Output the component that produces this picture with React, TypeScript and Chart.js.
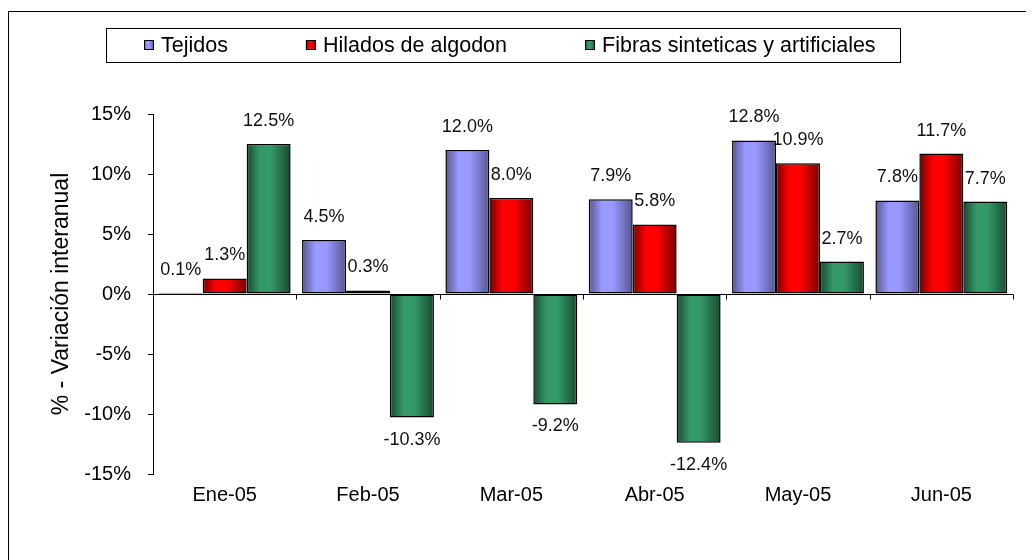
import React, { useEffect, useRef } from 'react';
import { Chart, registerables } from 'chart.js';

Chart.register(...registerables);

const categories = ['Ene-05', 'Feb-05', 'Mar-05', 'Abr-05', 'May-05', 'Jun-05'];
const seriesNames = ['Tejidos', 'Hilados de algodon', 'Fibras sinteticas y artificiales'];
const tejidos = [0.1, 4.5, 12.0, 7.9, 12.8, 7.8];
const hilados = [1.3, 0.3, 8.0, 5.8, 10.9, 11.7];
const fibras = [12.5, -10.3, -9.2, -12.4, 2.7, 7.7];
const yMin = -15;
const yMax = 15;
const yStep = 5;
const yTitle = '% - Variación interanual';

const FONT = '"Liberation Sans", Arial, Helvetica, sans-serif';

const palette = [
  { light: '#9999ff', dark: '#55558f' },
  { light: '#ff0000', dark: '#780000' },
  { light: '#339966', dark: '#1a4a33' },
];

const makeGradient = (ctx: CanvasRenderingContext2D, x0: number, x1: number, p: { light: string; dark: string }) => {
  const g = ctx.createLinearGradient(x0, 0, x1, 0);
  g.addColorStop(0, p.dark);
  g.addColorStop(0.3, p.light);
  g.addColorStop(0.55, p.light);
  g.addColorStop(1, p.dark);
  return g;
};

const framePlugin = {
  id: 'outerFrame',
  beforeDraw(chart: any) {
    const ctx = chart.ctx;
    ctx.save();
    ctx.fillStyle = '#ffffff';
    ctx.fillRect(0, 0, chart.width, chart.height);
    ctx.strokeStyle = '#000000';
    ctx.lineWidth = 1;
    ctx.strokeRect(0.5, 3.5, chart.width + 20, chart.height + 20);
    ctx.restore();
  },
};

const gradientPlugin = {
  id: 'barGradient',
  beforeDatasetsDraw(chart: any) {
    const ctx = chart.ctx;
    chart.data.datasets.forEach((_ds: any, di: number) => {
      const meta = chart.getDatasetMeta(di);
      meta.data.forEach((bar: any) => {
        const { x, width } = bar.getProps(['x', 'width'], true);
        bar.options.backgroundColor = makeGradient(ctx, x - width / 2, x + width / 2, palette[di]);
      });
    });
  },
};

const axisTicksPlugin = {
  id: 'zeroTicks',
  afterDatasetsDraw(chart: any) {
    const ctx = chart.ctx;
    const xs = chart.scales.x;
    const ys = chart.scales.y;
    const y0 = Math.round(ys.getPixelForValue(0)) + 0.5;
    ctx.save();
    ctx.strokeStyle = '#000000';
    ctx.lineWidth = 1;
    ctx.beginPath();
    ctx.moveTo(chart.chartArea.left, y0);
    ctx.lineTo(chart.chartArea.right, y0);
    for (let i = 0; i <= categories.length; i++) {
      const x = Math.round(xs.getPixelForValue(i - 0.5)) + 0.5;
      ctx.moveTo(x, y0);
      ctx.lineTo(x, y0 + 5);
    }
    ctx.stroke();
    ctx.restore();
  },
};

const labelPlugin = {
  id: 'valueLabels',
  afterDatasetsDraw(chart: any) {
    const ctx = chart.ctx;
    ctx.save();
    ctx.font = `18px ${FONT}`;
    ctx.fillStyle = '#111111';
    ctx.textAlign = 'center';
    ctx.textBaseline = 'middle';
    chart.data.datasets.forEach((ds: any, di: number) => {
      const meta = chart.getDatasetMeta(di);
      meta.data.forEach((bar: any, i: number) => {
        const v = ds.data[i];
        const { x, y } = bar.getProps(['x', 'y'], true);
        const ty = v >= 0 ? y - 23 : y + 22;
        ctx.fillText(v.toFixed(1) + '%', x, ty);
      });
    });
    ctx.restore();
  },
};

const legendPlugin = {
  id: 'boxLegend',
  afterDraw(chart: any) {
    const ctx = chart.ctx;
    ctx.save();
    ctx.font = `21.5px ${FONT}`;
    const box = 10;
    const gapText = 7;
    const gapItem = 78;
    const widths = seriesNames.map((n) => box + gapText + ctx.measureText(n).width);
    const total = widths.reduce((a, b) => a + b, 0) + gapItem * (widths.length - 1);
    let x = Math.round(502 - total / 2);
    const cy = 37;
    ctx.fillStyle = '#ffffff';
    ctx.strokeStyle = '#000000';
    ctx.lineWidth = 1;
    ctx.fillRect(x - 38, 20, total + 62, 34);
    ctx.strokeRect(x - 38 + 0.5, 20.5, Math.round(total + 62), 34);
    seriesNames.forEach((n, i) => {
      ctx.fillStyle = makeGradient(ctx, x, x + box, palette[i]);
      ctx.fillRect(x, cy - box / 2, box, box);
      ctx.strokeStyle = '#000000';
      ctx.strokeRect(x + 0.5, cy - box / 2 + 0.5, box - 1, box - 1);
      ctx.fillStyle = '#000000';
      ctx.textAlign = 'left';
      ctx.textBaseline = 'middle';
      ctx.fillText(n, x + box + gapText, cy + 1);
      x += widths[i] + gapItem;
    });
    ctx.restore();
  },
};

export default function App() {
  const ref = useRef<HTMLCanvasElement | null>(null);

  useEffect(() => {
    if (!ref.current) return;
    const series = [tejidos, hilados, fibras];
    const chart = new Chart(ref.current, {
      type: 'bar',
      data: {
        labels: categories,
        datasets: series.map((d, i) => ({
          label: seriesNames[i],
          data: d,
          backgroundColor: () => palette[i].light,
          borderColor: '#000000',
          borderWidth: 1.5,
          borderSkipped: false,
          categoryPercentage: 0.92,
          barPercentage: 1,
        })),
      },
      options: {
        responsive: false,
        animation: false,
        events: [],
        layout: { padding: { top: 106, right: 21, left: 0, bottom: 36 } },
        plugins: {
          legend: { display: false },
          tooltip: { enabled: false },
          title: { display: false },
        },
        scales: {
          x: {
            grid: { display: false },
            border: { display: false },
            ticks: {
              color: '#000000',
              font: { family: FONT, size: 20 },
              padding: 1,
              maxRotation: 0,
            },
            afterFit: (s: any) => {
              s.height = 50;
            },
          },
          y: {
            min: yMin,
            max: yMax,
            grid: {
              color: 'rgba(0,0,0,0)',
              tickColor: '#000000',
              tickLength: 5,
              drawOnChartArea: false,
            },
            border: { display: true, color: '#000000', width: 1 },
            ticks: {
              stepSize: yStep,
              color: '#000000',
              font: { family: FONT, size: 20 },
              padding: 17,
              callback: (v: any) => `${v}%`,
            },
            title: {
              display: true,
              text: yTitle,
              color: '#000000',
              font: { family: FONT, size: 23 },
              padding: { top: 40, bottom: 0 },
            },
            afterFit: (s: any) => {
              s.width = 145;
            },
          },
        },
      },
      plugins: [framePlugin, gradientPlugin, axisTicksPlugin, labelPlugin, legendPlugin],
    });
    return () => chart.destroy();
  }, []);

  return <canvas ref={ref} width={1026} height={552} style={{ display: 'block' }} />;
}
